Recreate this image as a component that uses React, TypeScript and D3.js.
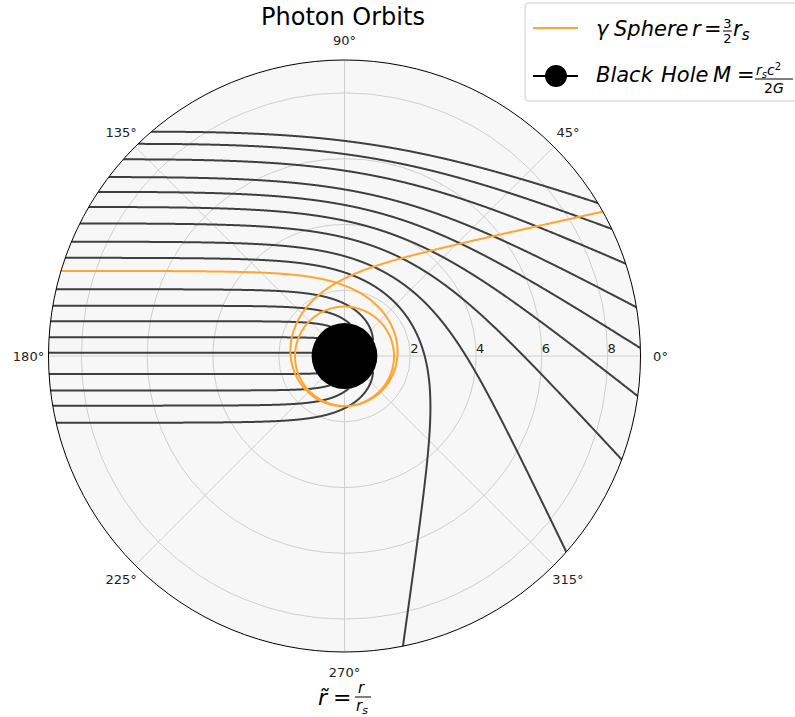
import React from "react";
import * as d3 from "d3";

// ---- data ----
// launch offsets (units of r_s) of the dark photon paths, top to bottom
const DEFLECTED_B = [6.82, 6.45, 5.98, 5.44, 4.99, 4.53, 4.03, 3.475, 2.985];
const CAPTURED_B = [2.03, 1.53, 1.06, 0.57, 0.1, -0.55, -1.05, -1.51, -2.03];
// photons start travelling in +x from the rim at this radius (units of r_s)
const LAUNCH_R = 9.05;
// photon-sphere path: exit angle at the rim (deg), after two extra turns
const GAMMA_EXIT_DEG = 29.2;
const GAMMA_TURNS = 2;
const R_MAX = 9;
const R_TICKS = [2, 4, 6, 8];
const ANGLE_TICKS = [0, 45, 90, 135, 180, 225, 270, 315];
const HORIZON_R = 1;

const W = 795;
const H = 717;
const CX = 344.5;
const CY = 356;
const RADIUS = 296;

type P = { r: number; theta: number };

const STEP = 0.0005;
const acc = (uu: number) => -uu + 1.5 * uu * uu;

// Schwarzschild photon orbit: u'' + u = 3/2 r_s u^2 (r_s = 1)
function integrate(b: number, collect: boolean): { pts: P[]; exitPhi: number } {
  const B = Math.abs(b);
  const sgn = b >= 0 ? -1 : 1;
  const x0 = -Math.sqrt(LAUNCH_R * LAUNCH_R - B * B);
  const r0 = LAUNCH_R;
  let phi = Math.atan2(B, -x0);
  let u = 1 / r0;
  let v = Math.cos(phi) / B;
  const h = STEP;
  const pts: P[] = [];
  if (collect) pts.push({ r: r0, theta: Math.PI + sgn * phi });
  let exitPhi = Infinity;
  for (let i = 0; i < 400000; i++) {
    const k1u = v, k1v = acc(u);
    const k2u = v + 0.5 * h * k1v, k2v = acc(u + 0.5 * h * k1u);
    const k3u = v + 0.5 * h * k2v, k3v = acc(u + 0.5 * h * k2u);
    const k4u = v + h * k3v, k4v = acc(u + h * k3u);
    u += (h / 6) * (k1u + 2 * k2u + 2 * k3u + k4u);
    v += (h / 6) * (k1v + 2 * k2v + 2 * k3v + k4v);
    phi += h;
    if (v < 0 && u < 1 / R_MAX && exitPhi === Infinity) {
      exitPhi = phi;
      if (!collect) break;
    }
    if (u <= 1 / 14 && v < 0) {
      if (collect) pts.push({ r: 1 / u, theta: Math.PI + sgn * phi });
      break;
    }
    if (u >= 1 / HORIZON_R) {
      if (collect) pts.push({ r: HORIZON_R * 0.98, theta: Math.PI + sgn * phi });
      break;
    }
    if (collect && i % 4 === 0) pts.push({ r: 1 / u, theta: Math.PI + sgn * phi });
  }
  return { pts, exitPhi };
}

// find the launch offset whose path leaves the rim at the read exit angle
function shootGamma(): number {
  const target = Math.PI - (GAMMA_EXIT_DEG * Math.PI) / 180 + 2 * Math.PI * GAMMA_TURNS;
  let lo = 2.5;
  let hi = 2.7;
  for (let it = 0; it < 70; it++) {
    const mid = 0.5 * (lo + hi);
    const e = integrate(mid, false).exitPhi;
    if (e > target) lo = mid;
    else hi = mid;
  }
  return hi;
}

export default function App() {
  const rScale = d3.scaleLinear().domain([0, R_MAX]).range([0, RADIUS]);
  const line = d3
    .lineRadial<P>()
    .angle((d) => Math.PI / 2 - d.theta)
    .radius((d) => rScale(d.r))
    .curve(d3.curveLinear);

  const dark = [...DEFLECTED_B, ...CAPTURED_B].map((b) => line(integrate(b, true).pts) || "");
  const gammaB = shootGamma();
  const gamma = line(integrate(gammaB, true).pts) || "";

  const font = "DejaVu Sans, sans-serif";
  const gridColor = "#cfcfcf";
  const orange = "#ffa630";
  const darkColor = "#3f3f3f";

  return (
    <svg
      width={W}
      height={H}
      style={{ position: "absolute", left: 0, top: 0, background: "#fff" }}
      fontFamily={font}
    >
      <defs>
        <clipPath id="polarClip">
          <circle cx={0} cy={0} r={RADIUS} />
        </clipPath>
      </defs>
      <text x={343} y={25} textAnchor="middle" fontSize={24} fill="#000">
        Photon Orbits
      </text>
      <g transform={`translate(${CX},${CY})`}>
        <circle r={RADIUS} fill="#f7f7f7" />
        {R_TICKS.map((t) => (
          <circle key={t} r={rScale(t)} fill="none" stroke={gridColor} strokeWidth={1} />
        ))}
        {ANGLE_TICKS.map((a) => (
          <line
            key={a}
            x1={0}
            y1={0}
            x2={RADIUS * Math.cos((a * Math.PI) / 180)}
            y2={-RADIUS * Math.sin((a * Math.PI) / 180)}
            stroke={gridColor}
            strokeWidth={1}
          />
        ))}
        <g clipPath="url(#polarClip)">
          {dark.map((d, i) => (
            <path key={i} d={d} fill="none" stroke={darkColor} strokeWidth={2} />
          ))}
          <path d={gamma} fill="none" stroke={orange} strokeWidth={2} />
          <circle r={rScale(HORIZON_R)} fill="#000" />
        </g>
        <circle r={RADIUS} fill="none" stroke="#000" strokeWidth={1} />
        {R_TICKS.map((t) => (
          <text
            key={t}
            x={rScale(t) + 4}
            y={-8}
            textAnchor="middle"
            dominantBaseline="central"
            fontSize={13}
            fill="#222"
          >
            {t}
          </text>
        ))}
        {ANGLE_TICKS.map((a) => (
          <text
            key={a}
            x={(RADIUS + 20) * Math.cos((a * Math.PI) / 180)}
            y={-(RADIUS + 20) * Math.sin((a * Math.PI) / 180)}
            textAnchor="middle"
            dominantBaseline="central"
            fontSize={13}
            fill="#222"
          >
            {a}°
          </text>
        ))}
      </g>

      {/* x label r~ = r / r_s */}
      <g fill="#000">
        <text x={318} y={705} fontSize={22} fontStyle="italic">{"r\u0303"}</text>
        <text x={333} y={705} fontSize={22}>=</text>
        <text x={361} y={693} fontSize={15} fontStyle="italic" textAnchor="middle">r</text>
        <line x1={355} x2={371} y1={697} y2={697} stroke="#000" strokeWidth={1} />
        <text x={356} y={711} fontSize={15} fontStyle="italic">
          r<tspan fontSize={11} dy={3}>s</tspan>
        </text>
      </g>

      {/* legend */}
      <g>
        <rect x={525} y={3} width={290} height={98} rx={4} fill="#fff" fillOpacity={0.8} stroke="#cccccc" />
        <line x1={533} x2={578} y1={28} y2={28} stroke={orange} strokeWidth={2} />
        <text x={596} y={36} fontSize={21} fontStyle="italic">γ</text>
        <text x={614} y={36} fontSize={21} fontStyle="italic">Sphere</text>
        <text x={692} y={36} fontSize={21} fontStyle="italic">r</text>
        <text x={704} y={36} fontSize={21}>=</text>
        <text x={727.5} y={28} fontSize={13} textAnchor="middle">3</text>
        <line x1={723} x2={732} y1={31} y2={31} stroke="#000" strokeWidth={1} />
        <text x={727.5} y={43} fontSize={13} textAnchor="middle">2</text>
        <text x={733} y={36} fontSize={21} fontStyle="italic">
          r<tspan fontSize={15} dy={4}>s</tspan>
        </text>

        <line x1={533} x2={578} y1={76} y2={76} stroke="#000" strokeWidth={2} />
        <circle cx={556} cy={76} r={11} fill="#000" />
        <text x={596} y={82} fontSize={21} fontStyle="italic">Black</text>
        <text x={661} y={82} fontSize={21} fontStyle="italic">Hole</text>
        <text x={713} y={82} fontSize={21} fontStyle="italic">M</text>
        <text x={737} y={82} fontSize={21}>=</text>
        <text x={756} y={75} fontSize={14} fontStyle="italic">
          r<tspan fontSize={10} dy={3}>s</tspan>
          <tspan dy={-3}>c</tspan>
          <tspan fontSize={10} dy={-5} fontStyle="normal">2</tspan>
        </text>
        <line x1={755} x2={793} y1={79} y2={79} stroke="#000" strokeWidth={1} />
        <text x={774} y={93} fontSize={14} textAnchor="middle">
          2<tspan fontStyle="italic">G</tspan>
        </text>
      </g>
    </svg>
  );
}
